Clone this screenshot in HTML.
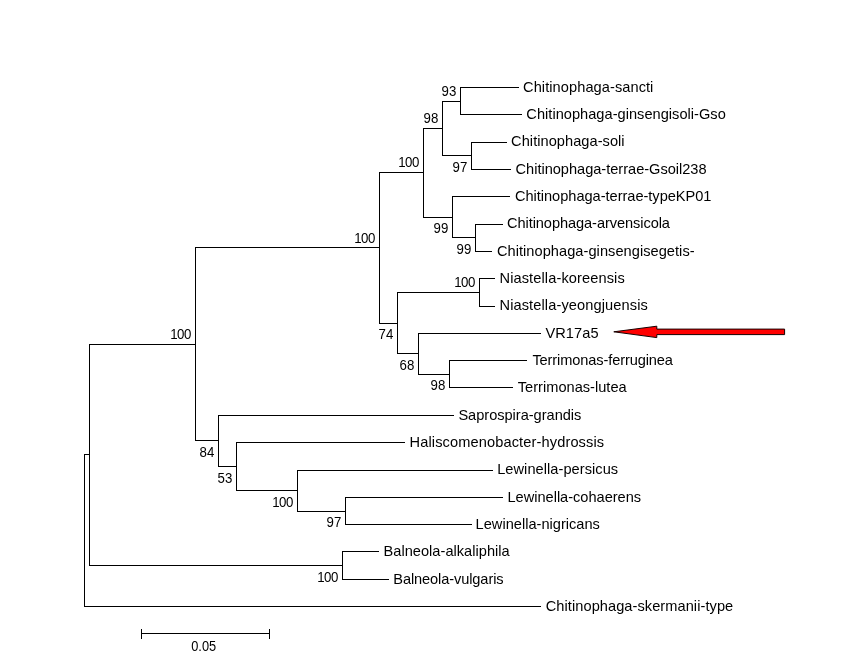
<!DOCTYPE html>
<html><head><meta charset="utf-8"><title>Phylogenetic tree</title>
<style>
html,body{margin:0;padding:0;background:#fff;}
body{width:862px;height:667px;overflow:hidden;font-family:"Liberation Sans",sans-serif;}
svg{display:block;}
text{font-family:"Liberation Sans",sans-serif;fill:#000;}
.l{font-size:14.6px;}
.n{font-size:13.8px;text-anchor:end;}
</style></head>
<body>
<svg width="862" height="667" viewBox="0 0 862 667">
<rect width="862" height="667" fill="#fff"/>
<g fill="#000" shape-rendering="crispEdges">
<rect x="460" y="87" width="59" height="1"/>
<rect x="460" y="114" width="62" height="1"/>
<rect x="471" y="142" width="36" height="1"/>
<rect x="471" y="169" width="40" height="1"/>
<rect x="452" y="196" width="58" height="1"/>
<rect x="475" y="224" width="28" height="1"/>
<rect x="475" y="251" width="17" height="1"/>
<rect x="479" y="278" width="16" height="1"/>
<rect x="479" y="306" width="16" height="1"/>
<rect x="418" y="333" width="123" height="1"/>
<rect x="449" y="360" width="78" height="1"/>
<rect x="449" y="387" width="64" height="1"/>
<rect x="218" y="415" width="236" height="1"/>
<rect x="236" y="442" width="169" height="1"/>
<rect x="297" y="470" width="196" height="1"/>
<rect x="345" y="497" width="158" height="1"/>
<rect x="345" y="524" width="127" height="1"/>
<rect x="342" y="551" width="37" height="1"/>
<rect x="342" y="579" width="47" height="1"/>
<rect x="84" y="606" width="457" height="1"/>
<rect x="460" y="87" width="1" height="28"/>
<rect x="442" y="101" width="19" height="1"/>
<rect x="471" y="142" width="1" height="28"/>
<rect x="442" y="155" width="30" height="1"/>
<rect x="442" y="101" width="1" height="55"/>
<rect x="423" y="128" width="20" height="1"/>
<rect x="475" y="224" width="1" height="28"/>
<rect x="452" y="237" width="24" height="1"/>
<rect x="452" y="196" width="1" height="42"/>
<rect x="423" y="217" width="30" height="1"/>
<rect x="423" y="128" width="1" height="90"/>
<rect x="379" y="172" width="45" height="1"/>
<rect x="479" y="278" width="1" height="29"/>
<rect x="397" y="292" width="83" height="1"/>
<rect x="449" y="360" width="1" height="28"/>
<rect x="418" y="374" width="32" height="1"/>
<rect x="418" y="333" width="1" height="42"/>
<rect x="397" y="353" width="22" height="1"/>
<rect x="397" y="292" width="1" height="62"/>
<rect x="379" y="323" width="19" height="1"/>
<rect x="379" y="172" width="1" height="152"/>
<rect x="195" y="247" width="185" height="1"/>
<rect x="345" y="497" width="1" height="28"/>
<rect x="297" y="511" width="49" height="1"/>
<rect x="297" y="470" width="1" height="42"/>
<rect x="236" y="490" width="62" height="1"/>
<rect x="236" y="442" width="1" height="49"/>
<rect x="218" y="466" width="19" height="1"/>
<rect x="218" y="415" width="1" height="52"/>
<rect x="195" y="440" width="24" height="1"/>
<rect x="195" y="247" width="1" height="194"/>
<rect x="89" y="344" width="107" height="1"/>
<rect x="342" y="551" width="1" height="29"/>
<rect x="89" y="565" width="254" height="1"/>
<rect x="89" y="344" width="1" height="222"/>
<rect x="84" y="454" width="6" height="1"/>
<rect x="84" y="454" width="1" height="153"/>
<rect x="141" y="633" width="129" height="1"/>
<rect x="141" y="629" width="1" height="10"/>
<rect x="269" y="629" width="1" height="10"/>
</g>
<path d="M613.8 331.8 L656.8 326.2 L656.8 329.1 L784.6 329.1 L784.6 334.6 L656.8 334.6 L656.8 337.6 Z" fill="#ff0000" stroke="#140000" stroke-width="1" stroke-linejoin="miter"/>
<g style="will-change:opacity;filter:grayscale(1)">
<text class="l" x="523.06" y="92" textLength="130.31" lengthAdjust="spacing">Chitinophaga-sancti</text>
<text class="l" x="526.36" y="119" textLength="199.39" lengthAdjust="spacing">Chitinophaga-ginsengisoli-Gso</text>
<text class="l" x="511.12" y="146" textLength="113.49" lengthAdjust="spacing">Chitinophaga-soli</text>
<text class="l" x="515.56" y="174" textLength="191.02" lengthAdjust="spacing">Chitinophaga-terrae-Gsoil238</text>
<text class="l" x="514.96" y="201" textLength="196.48" lengthAdjust="spacing">Chitinophaga-terrae-typeKP01</text>
<text class="l" x="506.98" y="228" textLength="162.99" lengthAdjust="spacing">Chitinophaga-arvensicola</text>
<text class="l" x="496.90" y="256" textLength="197.73" lengthAdjust="spacing">Chitinophaga-ginsengisegetis-</text>
<text class="l" x="499.49" y="283" textLength="125.26" lengthAdjust="spacing">Niastella-koreensis</text>
<text class="l" x="499.49" y="310" textLength="148.30" lengthAdjust="spacing">Niastella-yeongjuensis</text>
<text class="l" x="545.48" y="338" textLength="53.06" lengthAdjust="spacing">VR17a5</text>
<text class="l" x="532.41" y="365" textLength="140.52" lengthAdjust="spacing">Terrimonas-ferruginea</text>
<text class="l" x="517.82" y="392" textLength="108.83" lengthAdjust="spacing">Terrimonas-lutea</text>
<text class="l" x="458.38" y="420" textLength="123.00" lengthAdjust="spacing">Saprospira-grandis</text>
<text class="l" x="409.49" y="447" textLength="194.62" lengthAdjust="spacing">Haliscomenobacter-hydrossis</text>
<text class="l" x="497.20" y="474" textLength="120.89" lengthAdjust="spacing">Lewinella-persicus</text>
<text class="l" x="507.49" y="502" textLength="133.63" lengthAdjust="spacing">Lewinella-cohaerens</text>
<text class="l" x="475.57" y="529" textLength="124.33" lengthAdjust="spacing">Lewinella-nigricans</text>
<text class="l" x="383.49" y="556" textLength="126.25" lengthAdjust="spacing">Balneola-alkaliphila</text>
<text class="l" x="393.26" y="584" textLength="110.33" lengthAdjust="spacing">Balneola-vulgaris</text>
<text class="l" x="545.76" y="611" textLength="187.43" lengthAdjust="spacing">Chitinophaga-skermanii-type</text>
<text class="n" transform="translate(456.30,96) scale(0.96,1)">93</text>
<text class="n" transform="translate(467.30,172) scale(0.96,1)">97</text>
<text class="n" transform="translate(438.30,123) scale(0.96,1)">98</text>
<text class="n" transform="translate(471.30,254) scale(0.96,1)">99</text>
<text class="n" transform="translate(448.30,233) scale(0.96,1)">99</text>
<text class="n" transform="translate(419.30,167) scale(0.96,1)">1<tspan dx="-0.5">0</tspan><tspan dx="-0.5">0</tspan></text>
<text class="n" transform="translate(475.30,287) scale(0.96,1)">1<tspan dx="-0.5">0</tspan><tspan dx="-0.5">0</tspan></text>
<text class="n" transform="translate(445.30,390) scale(0.96,1)">98</text>
<text class="n" transform="translate(414.30,370) scale(0.96,1)">68</text>
<text class="n" transform="translate(393.30,339) scale(0.96,1)">74</text>
<text class="n" transform="translate(375.30,243) scale(0.96,1)">1<tspan dx="-0.5">0</tspan><tspan dx="-0.5">0</tspan></text>
<text class="n" transform="translate(341.30,527) scale(0.96,1)">97</text>
<text class="n" transform="translate(293.30,507) scale(0.96,1)">1<tspan dx="-0.5">0</tspan><tspan dx="-0.5">0</tspan></text>
<text class="n" transform="translate(232.30,483) scale(0.96,1)">53</text>
<text class="n" transform="translate(214.30,457) scale(0.96,1)">84</text>
<text class="n" transform="translate(191.30,339) scale(0.96,1)">1<tspan dx="-0.5">0</tspan><tspan dx="-0.5">0</tspan></text>
<text class="n" transform="translate(338.30,582) scale(0.96,1)">1<tspan dx="-0.5">0</tspan><tspan dx="-0.5">0</tspan></text>
<text class="n" style="text-anchor:middle" transform="translate(203.7,651) scale(0.93,1)">0.05</text>
</g>
</svg>
</body></html>
